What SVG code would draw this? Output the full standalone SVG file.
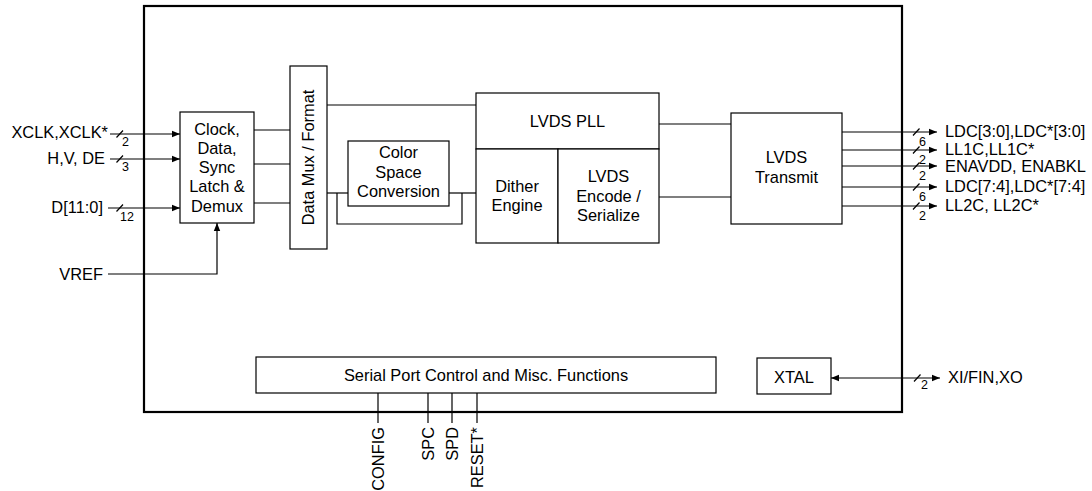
<svg xmlns="http://www.w3.org/2000/svg" width="1092" height="491" viewBox="0 0 1092 491">
<defs>
<marker id="arr" viewBox="0 0 10 10" refX="10" refY="5" markerWidth="8" markerHeight="8" markerUnits="userSpaceOnUse" orient="auto">
<path d="M0,1 L10,5 L0,9 Z" fill="#000"/>
</marker>
<marker id="arrs" viewBox="0 0 10 10" refX="0" refY="5" markerWidth="8" markerHeight="8" markerUnits="userSpaceOnUse" orient="auto">
<path d="M10,1 L0,5 L10,9 Z" fill="#000"/>
</marker>
</defs>
<style>
.box{fill:#fff;stroke:#000;stroke-width:1.2}
.outer{fill:none;stroke:#000;stroke-width:2.2}
.t{font-family:"Liberation Sans",Arial,sans-serif;font-size:16.4px;fill:#000}
.c{text-anchor:middle}
.e{text-anchor:end}
.n{font-family:"Liberation Sans",Arial,sans-serif;font-size:12.5px;fill:#000}
.w{fill:none;stroke:#000;stroke-width:1.2}
.a{marker-end:url(#arr)}
</style>
<rect width="1092" height="491" fill="#fff"/>
<rect class="outer" x="144" y="6" width="758" height="406"/>

<g id="connectors">
<path class="w a" d="M110,134 H180"/>
<path class="w a" d="M110,159 H180"/>
<path class="w a" d="M108,208 H180"/>
<path class="w a" d="M108,274 H217 V223"/>
<path class="w" d="M116.5,137.5 L123,130.5 M116.5,162.5 L123,155.5 M116.5,211.5 L123,204.5"/>
<path class="w" d="M254,130 H290 M254,164 H290 M254,203 H290"/>
<path class="w" d="M327,105 H476"/>
<path class="w" d="M327,193 H348"/>
<path class="w" d="M337,193 V224 H462 V193"/>
<path class="w" d="M449,193 H476"/>
<path class="w" d="M657,124 H731"/>
<path class="w" d="M657,197 H731"/>
<path class="w a" d="M842,132 H937"/>
<path class="w a" d="M842,150 H937"/>
<path class="w a" d="M842,166 H937"/>
<path class="w a" d="M842,187 H937"/>
<path class="w a" d="M842,206 H937"/>
<path class="w" d="M913,135.5 L919.5,128.5 M913,153.5 L919.5,146.5 M913,169.5 L919.5,162.5 M913,190.5 L919.5,183.5 M913,209.5 L919.5,202.5"/>
<path class="w" d="M378,393 V423 M428,393 V423 M452,393 V423 M477,393 V423"/>
<path class="w" d="M831,378 H940" marker-start="url(#arrs)" marker-end="url(#arr)"/>
<path class="w" d="M914,381.5 L920.5,374.5"/>
</g>

<g id="input-labels">
<text class="t e" x="108" y="138">XCLK,XCLK*</text>
<text class="n" x="122" y="146">2</text>
<text class="t e" x="105" y="164">H,V, DE</text>
<text class="n" x="122" y="171">3</text>
<text class="t e" x="103" y="213">D[11:0]</text>
<text class="n" x="120" y="221">12</text>
<text class="t e" x="103" y="280">VREF</text>
</g>

<g id="clock-latch">
<rect class="box" x="180" y="112" width="74" height="111"/>
<text class="t c" x="217" y="135">Clock,</text>
<text class="t c" x="217" y="154">Data,</text>
<text class="t c" x="217" y="173">Sync</text>
<text class="t c" x="217" y="192">Latch &amp;</text>
<text class="t c" x="217" y="212">Demux</text>
</g>

<g id="data-mux">
<rect class="box" x="290" y="66" width="37" height="183"/>
<text class="t c" transform="translate(314,157.5) rotate(-90)">Data Mux / Format</text>
</g>

<g id="color-space">
<rect class="box" x="348" y="141" width="101" height="65"/>
<text class="t c" x="398.5" y="158">Color</text>
<text class="t c" x="398.5" y="178">Space</text>
<text class="t c" x="398.5" y="197">Conversion</text>
</g>

<g id="lvds-pll">
<rect class="box" x="476" y="93" width="183" height="56"/>
<text class="t c" x="567.5" y="127">LVDS PLL</text>
</g>
<g id="dither">
<rect class="box" x="476" y="149" width="82" height="94"/>
<text class="t c" x="517" y="192">Dither</text>
<text class="t c" x="517" y="211">Engine</text>
</g>
<g id="lvds-encode">
<rect class="box" x="558" y="149" width="101" height="94"/>
<text class="t c" x="608.5" y="182">LVDS</text>
<text class="t c" x="608.5" y="202">Encode /</text>
<text class="t c" x="608.5" y="221">Serialize</text>
</g>

<g id="lvds-transmit">
<rect class="box" x="731" y="113" width="111" height="111"/>
<text class="t c" x="786.5" y="163">LVDS</text>
<text class="t c" x="786.5" y="183">Transmit</text>
</g>

<g id="output-labels">
<text class="t" x="945" y="137">LDC[3:0],LDC*[3:0]</text>
<text class="n" x="919" y="146">6</text>
<text class="t" x="945" y="155">LL1C,LL1C*</text>
<text class="n" x="919" y="164">2</text>
<text class="t" x="945" y="172">ENAVDD, ENABKL</text>
<text class="n" x="919" y="180">2</text>
<text class="t" x="945" y="192">LDC[7:4],LDC*[7:4]</text>
<text class="n" x="919" y="201">6</text>
<text class="t" x="945" y="211">LL2C, LL2C*</text>
<text class="n" x="919" y="220">2</text>
</g>

<g id="serial-port">
<rect class="box" x="256" y="357" width="460" height="36"/>
<text class="t c" x="486" y="381">Serial Port Control and Misc. Functions</text>
</g>
<g id="serial-labels">
<text class="t e" transform="translate(384,427) rotate(-90)">CONFIG</text>
<text class="t e" transform="translate(434,427) rotate(-90)">SPC</text>
<text class="t e" transform="translate(458,427) rotate(-90)">SPD</text>
<text class="t e" transform="translate(483,427) rotate(-90)">RESET*</text>
</g>

<g id="xtal">
<rect class="box" x="757" y="358" width="74" height="36"/>
<text class="t c" x="794" y="383">XTAL</text>
</g>
<g id="xtal-label">
<text class="n" x="921" y="389">2</text>
<text class="t" x="948" y="383">XI/FIN,XO</text>
</g>
</svg>
